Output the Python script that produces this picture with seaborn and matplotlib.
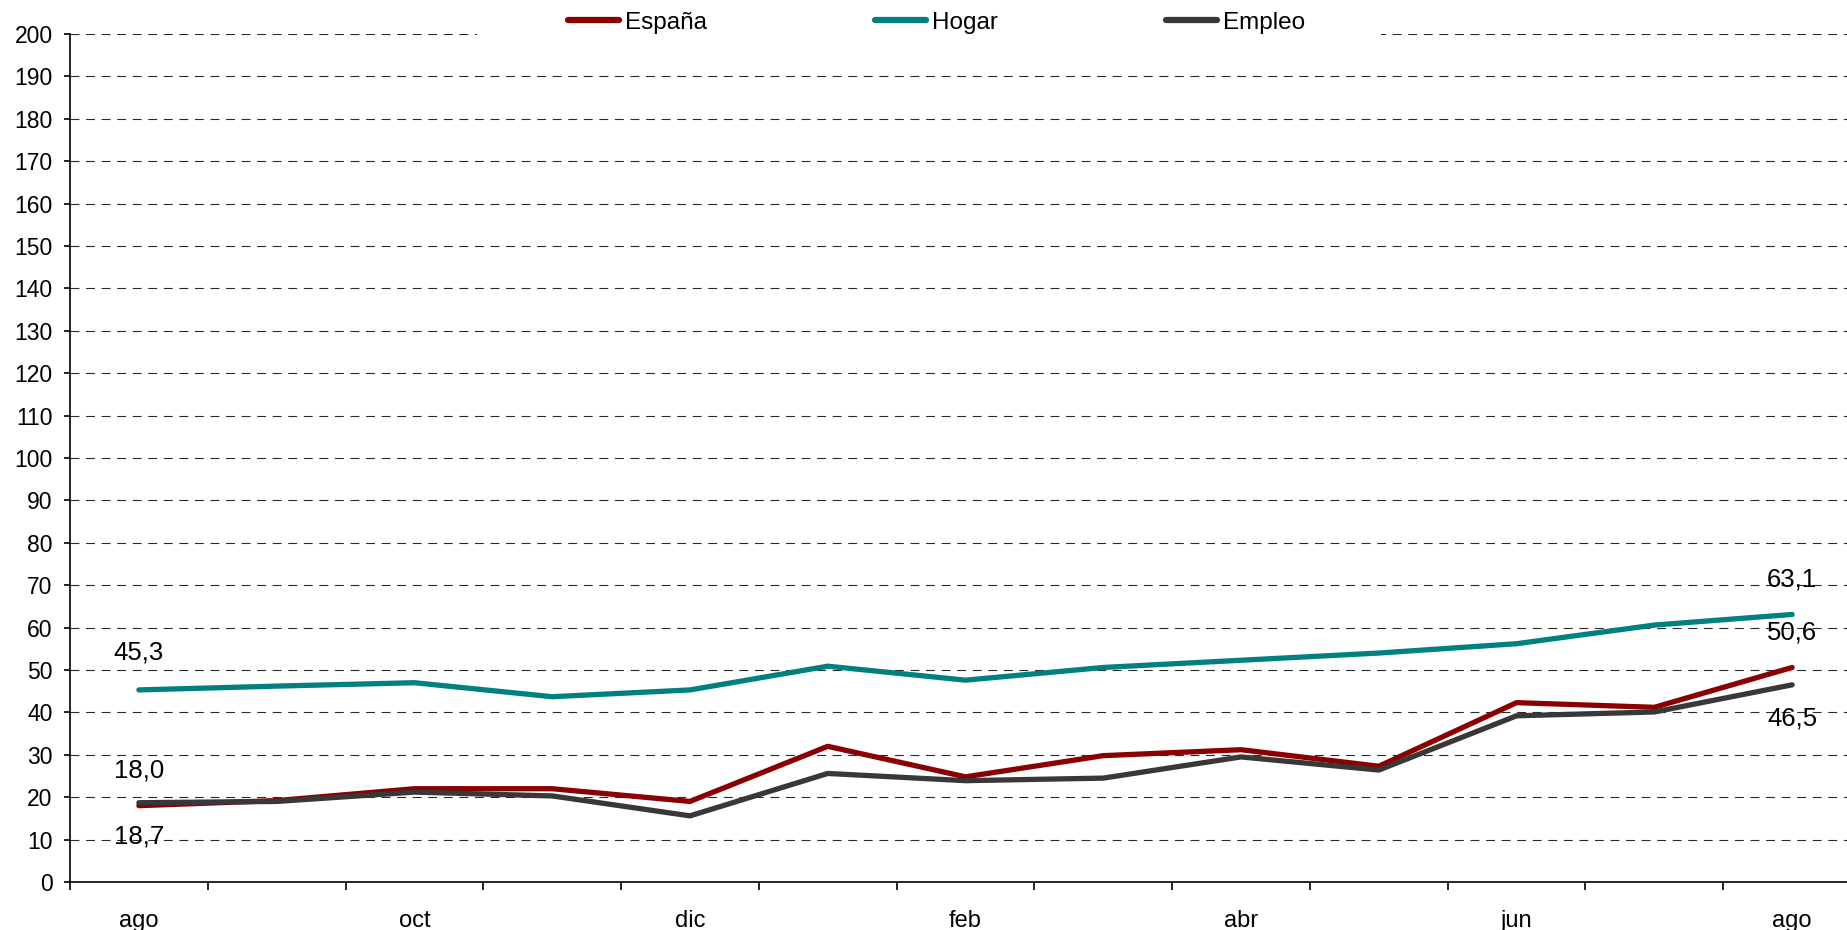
import matplotlib
matplotlib.use("Agg")
import matplotlib.pyplot as plt
import seaborn as sns
import pandas as pd
import numpy as np
from matplotlib.patches import Rectangle

months = ["ago", "sep", "oct", "nov", "dic", "ene", "feb", "mar", "abr", "may", "jun", "jul", "ago"]
espana = [18.0, 19.2, 22.0, 22.0, 19.0, 32.0, 24.8, 29.8, 31.2, 27.3, 42.3, 41.2, 50.6]
hogar = [45.3, 46.2, 47.0, 43.7, 45.3, 50.9, 47.6, 50.6, 52.3, 54.0, 56.2, 60.6, 63.1]
empleo = [18.7, 19.0, 21.2, 20.3, 15.6, 25.6, 23.9, 24.5, 29.5, 26.4, 39.2, 40.1, 46.5]
series_names = ["España", "Hogar", "Empleo"]
colors = {"España": "#8B0000", "Hogar": "#008080", "Empleo": "#383838"}

sns.set_theme(style="white")
plt.rcParams['font.family'] = ['Liberation Sans', 'DejaVu Sans']
plt.rcParams['text.color'] = 'black'

idx = np.arange(len(months))
df = pd.DataFrame({"idx": np.tile(idx, 3),
                   "valor": espana + hogar + empleo,
                   "serie": np.repeat(series_names, len(months))})

fig = plt.figure(figsize=(18.47, 9.30), dpi=100)
ax = fig.add_axes([70/1847, 48/930, 1791/1847, 848/930])

sns.lineplot(data=df, x="idx", y="valor", hue="serie", palette=colors,
             hue_order=series_names, linewidth=3.8, ax=ax, legend=False,
             sort=False)

ax.set_xlim(-0.5, len(months) - 0.5)
ax.set_ylim(0, 200)
ax.set_yticks(np.arange(0, 201, 10))
ax.yaxis.grid(True, color="#2a2a2a", linestyle=(0, (8, 6)), linewidth=0.8)
ax.xaxis.grid(False)
ax.set_axisbelow(True)

ax.set_xticks(idx[::2])
ax.set_xticklabels(months[::2])
ax.set_xticks(np.arange(-0.5, len(months), 1), minor=True)
ax.tick_params(axis="x", which="major", length=0, pad=20, labelsize=17, colors="black")
ax.tick_params(axis="x", which="minor", length=6, width=1.2, color="black", bottom=True, direction="out")
ax.tick_params(axis="y", length=4.5, width=1.2, pad=8, labelsize=16.5, colors="black", left=True, direction="out")
ax.set_xlabel("")
ax.set_ylabel("")

for s in ["top", "right"]:
    ax.spines[s].set_visible(False)
for s in ["left", "bottom"]:
    ax.spines[s].set_color("black")
    ax.spines[s].set_linewidth(1.2)

def fmt(v):
    return f"{v:.1f}".replace(".", ",")

labels = [
    (0, hogar[0], 27), (0, espana[0], 25), (0, empleo[0], -24),
    (12, hogar[-1], 25), (12, espana[-1], 25), (12, empleo[-1], -24),
]
for x, v, off in labels:
    ax.annotate(fmt(v), xy=(x, v), xytext=(0, off), textcoords="offset points",
                ha="center", va="center", fontsize=18.5, color="black")

# white band behind legend
fig.patches.append(Rectangle((477/1847, 1 - 48/930), (1381-477)/1847, 48/930,
                             transform=fig.transFigure, facecolor="white",
                             edgecolor="none", zorder=2))

handles = [plt.Line2D([0], [0], color=colors[n], lw=4.5, solid_capstyle="round") for n in series_names]
leg = fig.legend(handles, series_names, loc="center", bbox_to_anchor=(0.507, 1 - 23/930),
                 ncol=3, frameon=False, fontsize=17.5, handlelength=2.1,
                 handletextpad=0.25, columnspacing=6.9, labelcolor="black")
leg.set_zorder(5)

fig.savefig("out.png", dpi=100)
